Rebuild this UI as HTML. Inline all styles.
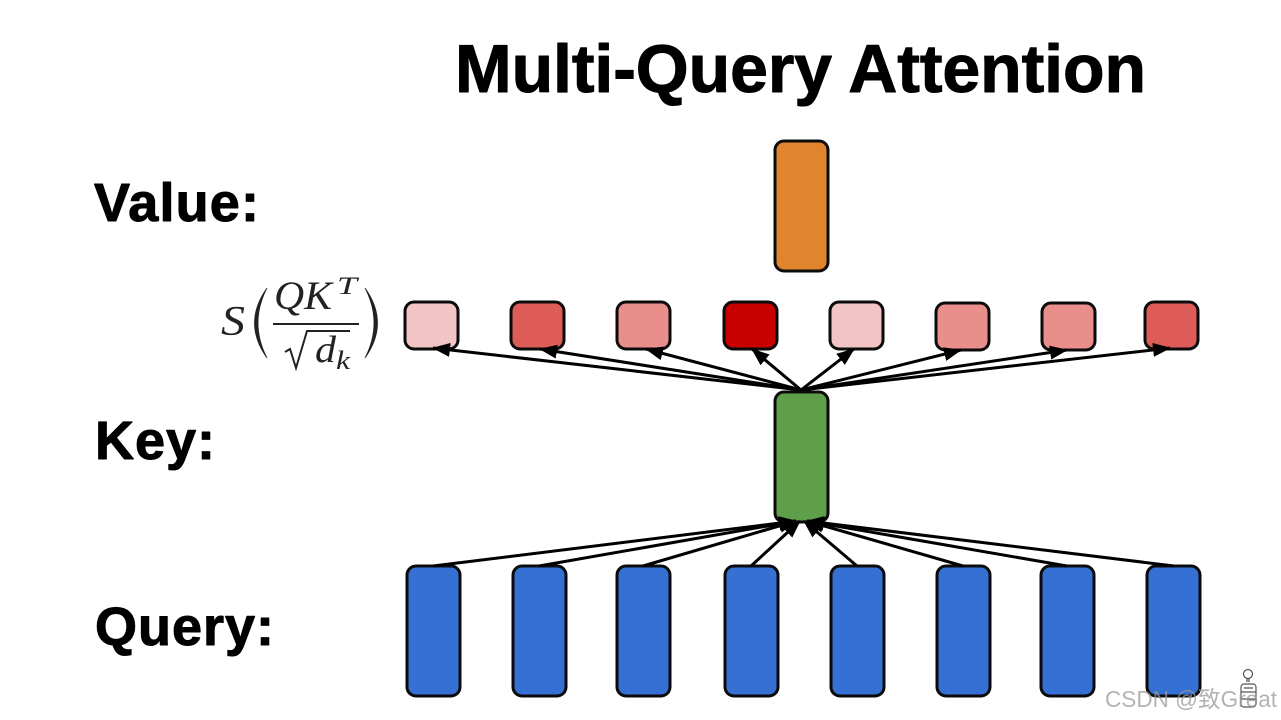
<!DOCTYPE html>
<html>
<head>
<meta charset="utf-8">
<style>
html,body{margin:0;padding:0;background:#fff;width:1281px;height:720px;overflow:hidden}
svg{display:block}
.b{font-family:"Liberation Sans",sans-serif;font-weight:bold;fill:#000;stroke:#000;stroke-width:1px;stroke-linejoin:round}
.m{font-family:"Liberation Serif",serif;font-style:italic;fill:#222}
</style>
</head>
<body>
<svg width="1281" height="720" viewBox="0 0 1281 720" xmlns="http://www.w3.org/2000/svg">
<defs>
<marker id="a" viewBox="0 0 18 14" refX="17" refY="7" markerWidth="18" markerHeight="14" markerUnits="userSpaceOnUse" orient="auto"><path d="M0 0L18 7L0 14z" fill="#000"/></marker>
</defs>
<rect width="1281" height="720" fill="#fff"/>
<text class="b" x="455" y="92" font-size="68" textLength="691" lengthAdjust="spacing">Multi-Query Attention</text>
<text class="b" x="94" y="221" font-size="54" textLength="165" lengthAdjust="spacing">Value:</text>
<text class="b" x="95" y="459" font-size="54" textLength="120" lengthAdjust="spacing">Key:</text>
<text class="b" x="95" y="645" font-size="54" textLength="179" lengthAdjust="spacing">Query:</text>

<text class="m" x="221" y="335" font-size="42" textLength="24" lengthAdjust="spacingAndGlyphs">S</text>
<path d="M267 288Q242 323 267 358Q249 323 267 288z" fill="#222" stroke="#222" stroke-width="0.8"/>
<text class="m" x="274" y="309" font-size="40" textLength="58" lengthAdjust="spacingAndGlyphs">QK</text>
<text class="m" x="337" y="294" font-size="25" textLength="20" lengthAdjust="spacingAndGlyphs">T</text>
<rect x="273" y="323" width="86" height="2" fill="#222"/>
<path d="M285 352L290 349L296 368L307 331H350" fill="none" stroke="#222" stroke-width="2"/>
<text class="m" x="315" y="362" font-size="38" textLength="21" lengthAdjust="spacingAndGlyphs">d</text>
<text class="m" x="336" y="369" font-size="26" textLength="14" lengthAdjust="spacingAndGlyphs">k</text>
<path d="M365 288Q390 323 365 358Q383 323 365 288z" fill="#222" stroke="#222" stroke-width="0.8"/>

<g stroke="#0b0b0b" stroke-width="3">
<rect x="775" y="141" width="53" height="130" rx="9" fill="#e0842d"/>
<rect x="775" y="392" width="53" height="130" rx="9" fill="#5f9f49"/>
<rect x="405" y="302" width="53" height="47" rx="9" fill="#f2c4c3"/>
<rect x="511" y="302" width="53" height="47" rx="9" fill="#de5c58"/>
<rect x="617" y="302" width="53" height="47" rx="9" fill="#e88e8b"/>
<rect x="724" y="302" width="53" height="47" rx="9" fill="#c80000"/>
<rect x="830" y="302" width="53" height="47" rx="9" fill="#f2c4c3"/>
<rect x="936" y="303" width="53" height="47" rx="9" fill="#e88e8b"/>
<rect x="1042" y="303" width="53" height="47" rx="9" fill="#e88e8b"/>
<rect x="1145" y="302" width="53" height="47" rx="9" fill="#de5c58"/>
<rect x="407" y="566" width="53" height="130" rx="9" fill="#3570d4"/>
<rect x="513" y="566" width="53" height="130" rx="9" fill="#3570d4"/>
<rect x="617" y="566" width="53" height="130" rx="9" fill="#3570d4"/>
<rect x="725" y="566" width="53" height="130" rx="9" fill="#3570d4"/>
<rect x="831" y="566" width="53" height="130" rx="9" fill="#3570d4"/>
<rect x="937" y="566" width="53" height="130" rx="9" fill="#3570d4"/>
<rect x="1041" y="566" width="53" height="130" rx="9" fill="#3570d4"/>
<rect x="1147" y="566" width="53" height="130" rx="9" fill="#3570d4"/>
</g>

<g stroke="#000" stroke-width="3" fill="none">
<line x1="801" y1="390" x2="433" y2="348" marker-end="url(#a)"/>
<line x1="801" y1="390" x2="540" y2="349" marker-end="url(#a)"/>
<line x1="801" y1="390" x2="646" y2="349" marker-end="url(#a)"/>
<line x1="801" y1="390" x2="752" y2="349" marker-end="url(#a)"/>
<line x1="801" y1="390" x2="854" y2="349" marker-end="url(#a)"/>
<line x1="801" y1="390" x2="961" y2="350" marker-end="url(#a)"/>
<line x1="801" y1="390" x2="1067" y2="350" marker-end="url(#a)"/>
<line x1="801" y1="390" x2="1170" y2="348" marker-end="url(#a)"/>
<line x1="433" y1="566" x2="796" y2="521" marker-end="url(#a)"/>
<line x1="539" y1="566" x2="796" y2="521" marker-end="url(#a)"/>
<line x1="643" y1="566" x2="796" y2="521" marker-end="url(#a)"/>
<line x1="751" y1="566" x2="800" y2="521" marker-end="url(#a)"/>
<line x1="857" y1="566" x2="804" y2="521" marker-end="url(#a)"/>
<line x1="963" y1="566" x2="807" y2="521" marker-end="url(#a)"/>
<line x1="1067" y1="566" x2="807" y2="521" marker-end="url(#a)"/>
<line x1="1174" y1="566" x2="807" y2="521" marker-end="url(#a)"/>
</g>

<g fill="none" stroke="#555" stroke-width="1.2">
<circle cx="1248" cy="674" r="4.5"/>
<path d="M1246 679H1250M1246 681H1250"/>
<rect x="1241" y="684" width="15" height="23" rx="3"/>
<path d="M1241 692H1256M1241 699H1256M1244 688H1253"/>
</g>
<text x="1105" y="707" font-size="23" fill="#9a9a9a" fill-opacity=".75" font-family="'Liberation Sans','Noto Sans CJK SC',sans-serif" textLength="172" lengthAdjust="spacingAndGlyphs">CSDN @致Great</text>
</svg>
</body>
</html>
